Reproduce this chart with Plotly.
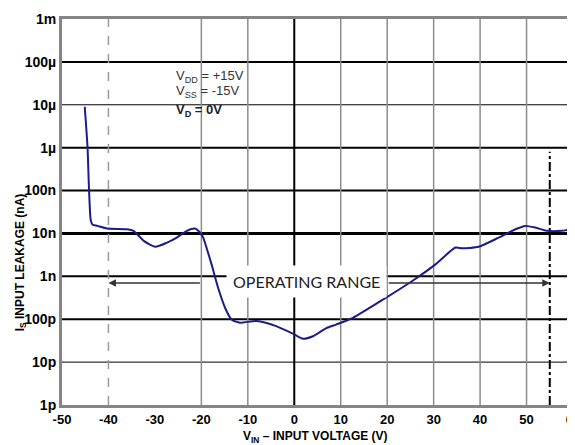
import math
import plotly.graph_objects as go

# leakage curve (V, A)
v_in = [-45.1, -44.5, -44.2, -43.8, -43.4, -42.4, -40.3, -36.0, -34.6, -32.4,
        -29.9, -27.4, -25.3, -23.1, -21.4, -20.3, -19.6, -18.9, -17.8, -17.1,
        -16.4, -14.9, -13.5, -11.7, -8.1, -3.9, -0.3, 1.9, 4.0, 6.9,
        9.0, 12.6, 19.7, 25.4, 30.4, 34.7, 36.1, 39.7, 44.0, 47.6,
        49.7, 51.9, 54.4, 57.6, 60.0]
i_leak = [9e-6, 1e-6, 1.2e-7, 2.0e-8, 1.6e-8, 1.5e-8, 1.3e-8, 1.25e-8, 1.15e-8, 6.7e-9,
          4.9e-9, 6.1e-9, 8e-9, 1.15e-8, 1.3e-8, 1.05e-8, 8e-9, 4.7e-9, 1.9e-9, 1e-9,
          5.4e-10, 1.85e-10, 9.8e-11, 8.3e-11, 9.1e-11, 6.9e-11, 4.6e-11, 3.5e-11, 4.0e-11, 6.2e-11,
          7.5e-11, 1.08e-10, 3.16e-10, 7.8e-10, 1.9e-9, 4.7e-9, 4.5e-9, 4.9e-9, 8e-9, 1.25e-8,
          1.5e-8, 1.37e-8, 1.15e-8, 1.15e-8, 1.3e-8]

y_tickvals = [1e-12, 1e-11, 1e-10, 1e-9, 1e-8, 1e-7, 1e-6, 1e-5, 1e-4, 1e-3]
y_ticktext = ["1p", "10p", "100p", "1n", "10n", "100n", "1µ", "10µ", "100µ", "1m"]
x_tickvals = [-50, -40, -30, -20, -10, 0, 10, 20, 30, 40, 50, 60]
x_ticktext = ["-50", "-40", "-30", "-20", "-10", "0", "10", "20", "30", "40", "50", "60"]

# grid lines: (value, width)
h_grid = [(1e-11, 1), (1e-10, 2), (1e-9, 2), (1e-8, 3), (1e-7, 2), (1e-6, 2), (1e-5, 1), (1e-4, 2)]
v_grid = [-20, -10, 10, 20, 30, 40, 50]

op_lo, op_hi = -40, 55
arrow_y = 7e-10

fig = go.Figure()
fig.add_trace(go.Scatter(x=v_in, y=i_leak, mode="lines",
                         line=dict(color="#1c1c88", width=2, shape="spline", smoothing=0.6),
                         showlegend=False, hoverinfo="skip"))

shapes = []
for val, w in h_grid:
    shapes.append(dict(type="line", xref="x", yref="y", x0=-50, x1=60, y0=val, y1=val,
                       line=dict(color="black", width=w), layer="below"))
for val in v_grid:
    shapes.append(dict(type="line", xref="x", yref="y", x0=val, x1=val, y0=1e-12, y1=1e-3,
                       line=dict(color="#8c8c8c", width=1.5), layer="below"))
shapes.append(dict(type="line", xref="x", yref="y", x0=0, x1=0, y0=1e-12, y1=1e-3,
                   line=dict(color="black", width=2), layer="below"))
shapes.append(dict(type="line", xref="x", yref="y", x0=op_lo, x1=op_lo, y0=1e-12, y1=1e-3,
                   line=dict(color="#9a9a9a", width=1.5, dash="dash"), layer="below"))
shapes.append(dict(type="line", xref="x", yref="y", x0=op_hi, x1=op_hi, y0=1e-12, y1=8e-7,
                   line=dict(color="black", width=2, dash="dashdot"), layer="below"))

ly = math.log10(arrow_y)
cond_font = dict(family="Liberation Sans", size=13, color="#333")
annotations = [
    dict(x=op_lo, y=ly, ax=-20, ay=ly, axref="x", ayref="y", xref="x", yref="y",
         text="", showarrow=True, arrowhead=2, arrowsize=1, arrowwidth=1.5, arrowcolor="#333"),
    dict(x=op_hi, y=ly, ax=20, ay=ly, axref="x", ayref="y", xref="x", yref="y",
         text="", showarrow=True, arrowhead=2, arrowsize=1, arrowwidth=1.5, arrowcolor="#333"),
    dict(x=2.6, y=-9.12, xref="x", yref="y", text="OPERATING RANGE", showarrow=False,
         font=dict(family="Lato", size=16, color="#222"), bgcolor="white", borderpad=6),
    dict(x=-25.9, y=0.852, xref="x", yref="paper", xanchor="left", yanchor="middle",
         showarrow=False, text="V<sub>DD</sub> = +15V", font=cond_font),
    dict(x=-25.9, y=0.813, xref="x", yref="paper", xanchor="left", yanchor="middle",
         showarrow=False, text="V<sub>SS</sub> = -15V", font=cond_font),
    dict(x=-25.9, y=0.762, xref="x", yref="paper", xanchor="left", yanchor="middle",
         showarrow=False, text="<b>V<sub>D</sub> = 0V</b>",
         font=dict(family="Liberation Sans", size=13, color="#222")),
    dict(x=-0.08, y=0.37, xref="paper", yref="paper", textangle=-90, showarrow=False,
         xanchor="center", yanchor="middle",
         text="<b>I<sub>S</sub> INPUT LEAKAGE (nA)</b>",
         font=dict(family="Liberation Sans", size=12, color="black")),
    dict(x=0.496, y=-0.083, xref="paper", yref="paper", showarrow=False,
         xanchor="center", yanchor="middle",
         text="<b>V<sub>IN</sub> – INPUT VOLTAGE (V)</b>",
         font=dict(family="Liberation Sans", size=12, color="black")),
]

fig.update_layout(
    width=575, height=445,
    margin=dict(l=54, r=10, t=11, b=48),
    paper_bgcolor="white", plot_bgcolor="white",
    shapes=shapes, annotations=annotations,
    font=dict(family="Liberation Sans", size=12, color="black"),
)
fig.update_xaxes(range=[-50, 60], tickvals=x_tickvals, ticktext=x_ticktext,
                 showgrid=False, zeroline=False, automargin=False,
                 showline=True, mirror=True, linecolor="#858585", linewidth=3,
                 tickfont=dict(family="Liberation Sans", size=13, color="black", weight="bold"),
                 ticklabelstandoff=0, ticklabeloverflow="allow")
fig.update_yaxes(type="log", range=[-12, -3], tickvals=y_tickvals, ticktext=y_ticktext,
                 showgrid=False, zeroline=False, automargin=False,
                 showline=True, mirror=True, linecolor="#858585", linewidth=3,
                 tickfont=dict(family="Liberation Sans", size=14, color="black", weight="bold"),
                 ticklabelstandoff=0)

fig.write_html("out.html")
